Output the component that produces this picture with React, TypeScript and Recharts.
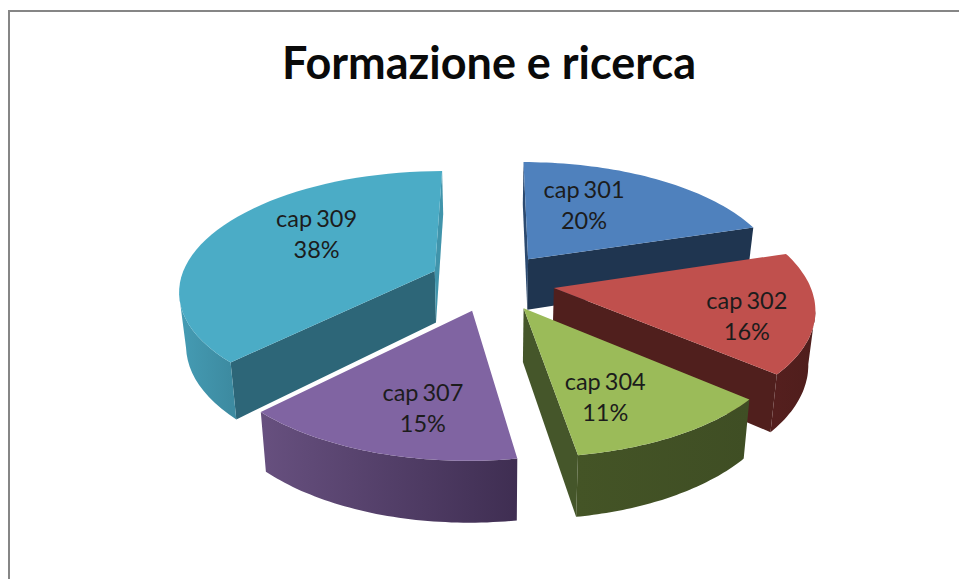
import { PieChart, Pie } from 'recharts';

const CAPITOLI = ['cap 301', 'cap 302', 'cap 304', 'cap 307', 'cap 309'];
const QUOTE = [20.2, 16.1, 11.2, 14.9, 37.6];

const TOP_COLOURS = ['#4f81bd', '#c0504d', '#9bbb59', '#8064a2', '#4bacc6'];
const START_WALL = ['#2c4a70', '#501f1d', '#404f25', '#3f2e52', '#2d6678'];
const END_WALL = ['#1f3550', '#501f1d', '#45562a', '#67507f', '#4094ab'];
const RIM_LEFT = ['#1f3550', '#541f1e', '#445426', '#67507f', '#459cb4'];
const RIM_RIGHT = ['#1f3550', '#4f1e1c', '#3f4e24', '#3f2e52', '#3d8ba1'];
// hand placed nudge of each label, Excel does not keep them on the bisector
const LABEL_NUDGE = [[-24, -3], [38, 14], [-5, 18], [6, 19], [15, -11]];

const data = CAPITOLI.map((name, i) => ({ name, value: QUOTE[i] }));

const CX = 492;
const CY = 282;
const RADIUS = 255;

// fake 3D: the slices live on a tilted plane, seen with some perspective
const SQUASH = 0.463;
const PERSPECTIVE = 0.15;
const EXPLODE = 0.246;
const LABEL_RHO = 0.6;

type Pt = [number, number];

function project(x: number, y: number, cx: number, cy: number, r: number): Pt {
  const d = 1 - PERSPECTIVE * y;
  return [cx + (r * x) / d, cy + (r * SQUASH * y) / d];
}

function dropPoint(x: number, y: number, cx: number, cy: number, r: number): Pt {
  const [sx, sy] = project(x, y, cx, cy, r);
  return [cx + (sx - cx) * 0.978, sy + 52 + 8 * y];
}

function toPath(points: Pt[]) {
  return points.map((p, i) => `${i === 0 ? 'M' : 'L'}${p[0].toFixed(1)},${p[1].toFixed(1)}`).join(' ') + ' Z';
}

function Slice3D(props: any) {
  const { cx, cy, outerRadius: r, startAngle, endAngle, index } = props;
  // recharts angles run counter clockwise from 3 o'clock
  const from = ((90 - startAngle) * Math.PI) / 180;
  const to = ((90 - endAngle) * Math.PI) / 180;
  const mid = (from + to) / 2;
  const ox = EXPLODE * Math.sin(mid);
  const oy = -EXPLODE * Math.cos(mid);

  const plane: Pt[] = [];
  const steps = 48;
  for (let i = 0; i <= steps; i++) {
    const t = from + ((to - from) * i) / steps;
    plane.push([ox + Math.sin(t), oy - Math.cos(t)]);
  }
  const top = plane.map((p) => project(p[0], p[1], cx, cy, r));
  const bottom = plane.map((p) => dropPoint(p[0], p[1], cx, cy, r));
  const apexTop = project(ox, oy, cx, cy, r);
  const apexBottom = dropPoint(ox, oy, cx, cy, r);

  // only walls whose top edge runs leftwards (clockwise order) face the viewer
  const rim: number[] = [];
  for (let i = 0; i < steps; i++) {
    if (top[i + 1][0] < top[i][0]) rim.push(i);
  }
  const rimTop = rim.length ? [top[rim[0]], ...rim.map((i) => top[i + 1])] : [];
  const rimBottom = rim.length ? [bottom[rim[0]], ...rim.map((i) => bottom[i + 1])] : [];
  const gradId = `rim-${index}`;
  const xs = rimTop.map((p) => p[0]);

  return (
    <g>
      {rim.length > 0 && (
        <defs>
          <linearGradient id={gradId} gradientUnits="userSpaceOnUse" x1={Math.min(...xs)} x2={Math.max(...xs)} y1={0} y2={0}>
            <stop offset="0%" stopColor={RIM_LEFT[index]} />
            <stop offset="100%" stopColor={RIM_RIGHT[index]} />
          </linearGradient>
        </defs>
      )}
      {top[0][0] < apexTop[0] && (
        <path d={toPath([apexTop, top[0], bottom[0], apexBottom])} fill={START_WALL[index]} />
      )}
      {apexTop[0] < top[steps][0] && (
        <path d={toPath([top[steps], apexTop, apexBottom, bottom[steps]])} fill={END_WALL[index]} />
      )}
      {rim.length > 0 && (
        <path d={toPath([...rimTop, ...[...rimBottom].reverse()])} fill={`url(#${gradId})`} />
      )}
      <path d={toPath([apexTop, ...top])} fill={TOP_COLOURS[index]} />
    </g>
  );
}

function SliceLabel(props: any) {
  const { cx, cy, outerRadius: r, midAngle, index, name, percent } = props;
  const t = ((90 - midAngle) * Math.PI) / 180;
  const rho = EXPLODE + LABEL_RHO;
  const [x, y] = project(rho * Math.sin(t), -rho * Math.cos(t), cx, cy, r);
  const lx = x + LABEL_NUDGE[index][0];
  const ly = y + LABEL_NUDGE[index][1];
  return (
    <text x={lx} y={ly} textAnchor="middle" fontFamily="Lato" fontSize={23.5} fill="#1c1c1c" stroke="none">
      <tspan x={lx} dy={-8} wordSpacing={-2}>{name}</tspan>
      <tspan x={lx} dy={31}>{`${Math.round(percent * 100)}%`}</tspan>
    </text>
  );
}

export default function App() {
  return (
    <div style={{ position: 'absolute', left: 0, top: 0, width: 959, height: 579, background: '#fff' }}>
      <div style={{ position: 'absolute', left: 8, top: 10, right: 0, bottom: 0, borderLeft: '2.5px solid #868686', borderTop: '2.5px solid #868686' }} />
      <div style={{ position: 'absolute', left: 0, top: 0 }}>
        <PieChart width={959} height={579} margin={{ top: 0, right: 0, bottom: 0, left: 0 }}>
          <text x={489} y={79} textAnchor="middle" fontFamily="Lato" fontWeight={700} fontSize={45} fill="#0a0a0a">
            Formazione e ricerca
          </text>
          <Pie
            data={data}
            dataKey="value"
            nameKey="name"
            cx={CX}
            cy={CY}
            outerRadius={RADIUS}
            startAngle={90}
            endAngle={-270}
            stroke="none"
            shape={Slice3D}
            label={SliceLabel}
            labelLine={false}
            isAnimationActive={false}
          />
        </PieChart>
      </div>
    </div>
  );
}
